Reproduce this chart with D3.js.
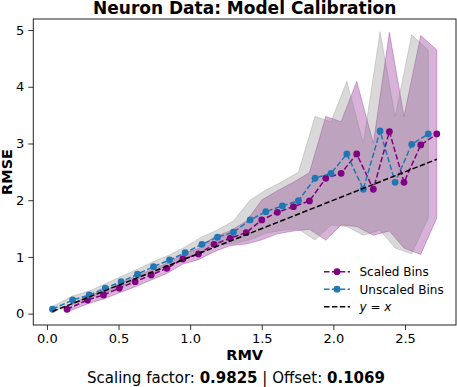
<!DOCTYPE html>
<html>
<head>
<meta charset="utf-8">
<script src="https://cdn.jsdelivr.net/npm/d3@7"></script>
<style>
  body { margin: 0; background: #fff; }
  text { font-family: "DejaVu Sans", sans-serif; }
</style>
</head>
<body>
<script>
const width = 457;
const height = 387;

// unscaled bins (RMV, RMSE)
const unscaledX = [0.039, 0.179, 0.295, 0.407, 0.518, 0.632, 0.744, 0.856, 0.965, 1.082, 1.191, 1.302,
                   1.419, 1.528, 1.644, 1.756, 1.872, 1.984, 2.094, 2.209, 2.326, 2.431, 2.547, 2.663];
const unscaledY = [0.078, 0.241, 0.329, 0.448, 0.564, 0.695, 0.828, 0.946, 1.075, 1.223, 1.347, 1.435,
                   1.652, 1.798, 1.899, 1.992, 2.387, 2.475, 2.815, 2.193, 3.221, 2.316, 2.986, 3.168];

// scaled bins
const scaledX = [0.140, 0.283, 0.395, 0.505, 0.616, 0.728, 0.837, 0.949, 1.058, 1.167, 1.279, 1.391,
                 1.500, 1.609, 1.721, 1.833, 1.947, 2.054, 2.163, 2.279, 2.391, 2.493, 2.610, 2.722];
const scaledY = [0.078, 0.241, 0.329, 0.448, 0.564, 0.683, 0.799, 0.964, 1.052, 1.223, 1.329, 1.428,
                 1.652, 1.787, 1.887, 1.987, 2.387, 2.475, 2.815, 2.193, 3.209, 2.316, 2.974, 3.168];

// spread of each bin (band half-width)
const binStd = [0.05, 0.07, 0.07, 0.08, 0.09, 0.09, 0.09, 0.09, 0.10, 0.13, 0.13, 0.20,
                0.35, 0.38, 0.43, 0.50, 1.09, 0.91, 1.28, 0.81, 1.75, 1.16, 1.93, 1.48];

const xTicks = [0, 0.5, 1.0, 1.5, 2.0, 2.5];
const yTicks = [0, 1, 2, 3, 4, 5];

const scaling = "0.9825";
const offset = "0.1069";

const margin = {top: 19, right: 1, bottom: 62, left: 33.3};

const svg = d3.select('body')
  .append('svg')
  .attr('width', width)
  .attr('height', height);

// x domain like matplotlib: 5% margin around the data
const allX = unscaledX.concat(scaledX);
const xMin = d3.min(allX), xMax = d3.max(allX);
const xPad = (xMax - xMin) * 0.05;

const x = d3.scaleLinear()
  .domain([xMin - xPad, xMax + xPad])
  .range([margin.left, width - margin.right]);

const y = d3.scaleLinear()
  .domain([-0.2, 5.195])
  .range([height - margin.bottom, margin.top]);

const unscaled = unscaledX.map((v, i) => ({x: v, y: unscaledY[i], s: binStd[i]}));
const scaled = scaledX.map((v, i) => ({x: v, y: scaledY[i], s: binStd[i]}));

const area = d3.area()
  .x(d => x(d.x))
  .y0(d => y(d.y - d.s))
  .y1(d => y(d.y + d.s));

const line = d3.line()
  .x(d => x(d.x))
  .y(d => y(d.y));

const plot = svg.append('g');

// bands
plot.append('path')
  .datum(scaled)
  .attr('d', area)
  .attr('fill', 'purple')
  .attr('fill-opacity', 0.3)
  .attr('stroke', 'purple')
  .attr('stroke-opacity', 0.3);

plot.append('path')
  .datum(unscaled)
  .attr('d', area)
  .attr('fill', 'gray')
  .attr('fill-opacity', 0.3)
  .attr('stroke', 'gray')
  .attr('stroke-opacity', 0.3);

function drawSeries(data, color) {
  plot.append('path')
    .datum(data)
    .attr('d', line)
    .attr('fill', 'none')
    .attr('stroke', color)
    .attr('stroke-width', 1.5)
    .attr('stroke-dasharray', '5.5,2.4');
  plot.selectAll(null)
    .data(data)
    .enter().append('circle')
    .attr('cx', d => x(d.x))
    .attr('cy', d => y(d.y))
    .attr('r', 3.4)
    .attr('fill', color);
}

drawSeries(scaled, 'purple');
drawSeries(unscaled, '#1f77b4');

// y = x reference
const diag = [xMin, xMax];
plot.append('line')
  .attr('x1', x(diag[0])).attr('y1', y(diag[0]))
  .attr('x2', x(diag[1])).attr('y2', y(diag[1]))
  .attr('stroke', 'black')
  .attr('stroke-width', 1.5)
  .attr('stroke-dasharray', '5.5,2.4');

// axes
const xAxis = svg.append('g')
  .attr('transform', `translate(0,${height - margin.bottom})`)
  .call(d3.axisBottom(x).tickValues(xTicks).tickFormat(d3.format('.1f')).tickSize(5).tickPadding(4));
const yAxis = svg.append('g')
  .attr('transform', `translate(${margin.left},0)`)
  .call(d3.axisLeft(y).tickValues(yTicks).tickFormat(d3.format('d')).tickSize(5).tickPadding(4));

[xAxis, yAxis].forEach(g => {
  g.select('.domain').remove();
  g.selectAll('text').style('font-size', '13px').attr('fill', '#000')
    .style('font-family', '"DejaVu Sans", sans-serif');
  g.selectAll('line').attr('stroke', '#000').attr('stroke-width', 0.8);
});

// frame
svg.append('rect')
  .attr('x', margin.left)
  .attr('y', margin.top)
  .attr('width', width - margin.right - margin.left)
  .attr('height', height - margin.bottom - margin.top)
  .attr('fill', 'none')
  .attr('stroke', '#222')
  .attr('stroke-width', 1);

// titles
svg.append('text')
  .attr('x', (margin.left + width - margin.right) / 2)
  .attr('y', 14)
  .attr('text-anchor', 'middle')
  .style('font-size', '17px')
  .style('font-weight', 'bold')
  .text('Neuron Data: Model Calibration');

svg.append('text')
  .attr('x', (margin.left + width - margin.right) / 2)
  .attr('y', 360)
  .attr('text-anchor', 'middle')
  .style('font-size', '14.5px')
  .style('font-weight', 'bold')
  .text('RMV');

svg.append('text')
  .attr('transform', `translate(12.3,${(margin.top + height - margin.bottom) / 2}) rotate(-90)`)
  .attr('text-anchor', 'middle')
  .style('font-size', '14.5px')
  .style('font-weight', 'bold')
  .text('RMSE');

const foot = svg.append('text')
  .attr('x', 236)
  .attr('y', 383)
  .attr('text-anchor', 'middle')
  .style('font-size', '15px');
foot.append('tspan').text('Scaling factor: ');
foot.append('tspan').style('font-weight', 'bold').text(scaling);
foot.append('tspan').text(' | Offset: ');
foot.append('tspan').style('font-weight', 'bold').text(offset);

// legend
const legendItems = [
  {label: 'Scaled Bins', color: 'purple', marker: true},
  {label: 'Unscaled Bins', color: '#1f77b4', marker: true},
  {label: 'y = x', color: 'black', marker: false}
];

const legend = svg.append('g');
legendItems.forEach((d, i) => {
  const ly = 271.7 + i * 17.5;
  legend.append('line')
    .attr('x1', 324).attr('x2', 350)
    .attr('y1', ly).attr('y2', ly)
    .attr('stroke', d.color)
    .attr('stroke-width', 1.5)
    .attr('stroke-dasharray', '5.5,2.4');
  if (d.marker) {
    legend.append('circle')
      .attr('cx', 337).attr('cy', ly).attr('r', 3.4)
      .attr('fill', d.color);
  }
  const t = legend.append('text')
    .attr('x', 359.5)
    .attr('y', ly + 4.3)
    .style('font-size', '12px');
  if (d.marker) {
    t.text(d.label);
  } else {
    t.append('tspan').style('font-style', 'italic').text('y');
    t.append('tspan').text(' = ');
    t.append('tspan').style('font-style', 'italic').text('x');
  }
});
</script>
</body>
</html>
